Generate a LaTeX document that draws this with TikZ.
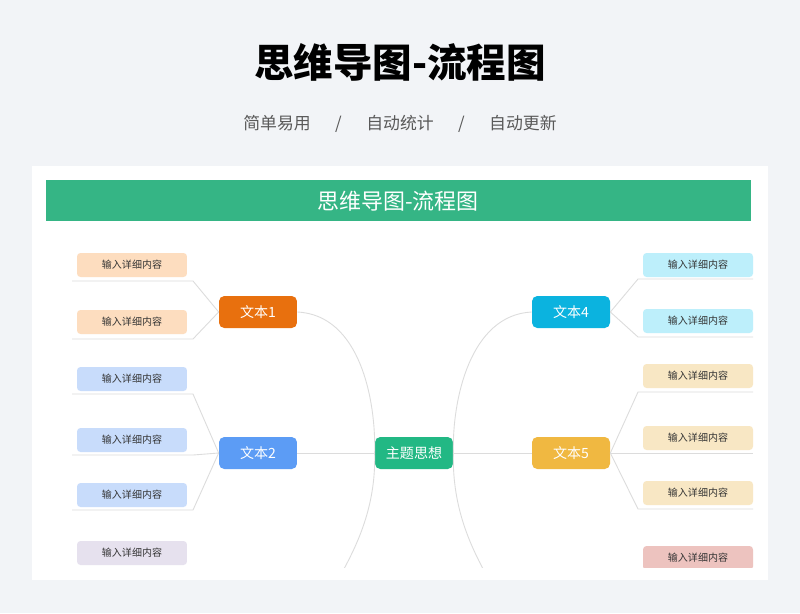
\documentclass[tikz,border=0pt]{standalone}
\usepackage{fontspec}
\setmainfont{Noto Sans CJK SC}
\usetikzlibrary{positioning}
\definecolor{pagebg}{HTML}{F2F4F7}
\definecolor{bandgreen}{HTML}{35B585}
\definecolor{maingreen}{HTML}{22B884}
\definecolor{orangeA}{HTML}{E8700E}
\definecolor{blueA}{HTML}{5C9CF5}
\definecolor{cyanA}{HTML}{0BB3DF}
\definecolor{yellowA}{HTML}{F0B841}
\definecolor{peach}{HTML}{FDDDBF}
\definecolor{paleblue}{HTML}{C8DCFB}
\definecolor{lavender}{HTML}{E6E1EE}
\definecolor{palecyan}{HTML}{BDEFFB}
\definecolor{cream}{HTML}{F8E7C4}
\definecolor{rose}{HTML}{EDC3BF}
\definecolor{linegray}{HTML}{DCDCDC}
\tikzset{
  topic/.style={rounded corners=3pt, minimum width=1.56cm, minimum height=0.64cm,
    text=white, font=\fontsize{8}{9}\selectfont, inner sep=0pt},
  leaf/.style={rounded corners=2pt, minimum width=2.2cm, minimum height=0.48cm,
    text=black!80, font=\fontsize{5.7}{6}\selectfont, inner sep=0pt},
  link/.style={draw=linegray, line width=0.5pt}
}
\begin{document}
\begin{tikzpicture}[x=0.02cm, y=-0.02cm]
    \useasboundingbox[fill=pagebg] (0,0) rectangle (800,613);

    %% Heading
    \node (title) at (400,62) {\fontsize{22.5}{24}\selectfont\bfseries 思维导图-流程图};
    \node[text=black!65] (sub) at (400,124) {\fontsize{9.6}{11}\selectfont 简单易用\quad\ \ /\quad\ \ 自动统计\quad\ \ /\quad\ \ 自动更新};

    %% Card
    \fill[white] (32,166) rectangle (768,580);
    \fill[bandgreen] (46,180) rectangle (751,221);
    \node[text=white] (band) at (398,201) {\fontsize{12.5}{14}\selectfont 思维导图-流程图};

    \begin{scope}
        \clip (32,222) rectangle (768,567);

        % Main topics
        \node[topic, fill=maingreen] (main) at (414,453) {主题思想};
        \node[topic, fill=orangeA] (t1) at (258,312) {文本1};
        \node[topic, fill=blueA] (t2) at (258,453) {文本2};
        \node[topic, fill=cyanA] (t4) at (571,312) {文本4};
        \node[topic, fill=yellowA] (t5) at (571,453) {文本5};

        % Curves from the centre
        \coordinate (lowL) at (335,585);
        \coordinate (lowR) at (492,585);
        \draw[link] (t1.east) .. controls (360,315) and (376,400) .. (main.west)
            .. controls (376,510) and (355,550) .. (lowL);
        \draw[link] (t4.west) .. controls (470,315) and (452,400) .. (main.east)
            .. controls (452,510) and (472,550) .. (lowR);
        \draw[link] (main.west) -- (t2.east);
        \draw[link] (main.east) -- (t5.west);

        % Left leaves
        \foreach \y/\c/\n in {265/peach/a, 322/peach/b, 379/paleblue/c, 440/paleblue/d, 495/paleblue/e, 553/lavender/f}
            \node[leaf, fill=\c] (L\n) at (132,\y) {输入详细内容};
        \foreach \y/\p in {281/t1, 339/t1, 394/t2, 455/t2, 510/t2}
            \draw[link] (72,\y) -- (193,\y) -- (\p.west);

        % Right leaves
        \foreach \y/\c/\n in {265/palecyan/a, 321/palecyan/b, 376/cream/c, 438/cream/d, 493/cream/e, 558/rose/f}
            \node[leaf, fill=\c] (R\n) at (698,\y) {输入详细内容};
        \foreach \y/\p in {279/t4, 337/t4, 392/t5, 453/t5, 509/t5}
            \draw[link] (\p.east) -- (638,\y) -- (753,\y);
    \end{scope}

\end{tikzpicture}
\end{document}
